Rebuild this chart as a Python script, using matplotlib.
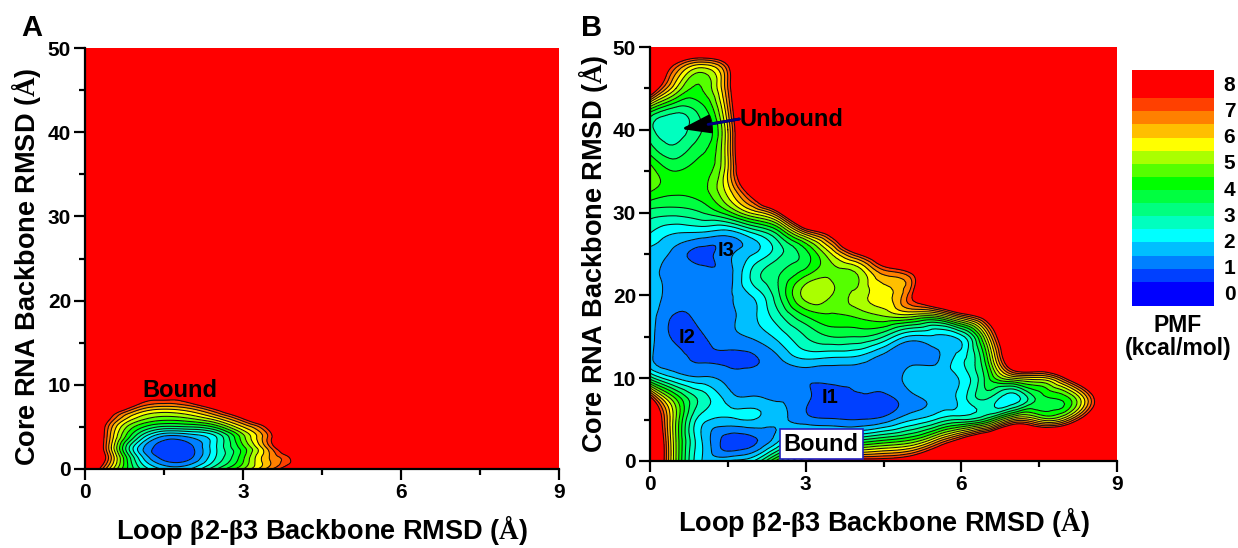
import numpy as np
import matplotlib
matplotlib.use("Agg")
import matplotlib.pyplot as plt
import matplotlib.tri as mtri
from matplotlib.cm import ScalarMappable
from matplotlib.colors import BoundaryNorm, ListedColormap

plt.rcParams["font.family"] = ["Liberation Sans", "DejaVu Sans"]
plt.rcParams["font.weight"] = "bold"
plt.rcParams["axes.labelweight"] = "bold"
plt.rcParams["mathtext.fontset"] = "custom"
plt.rcParams["mathtext.bf"] = "Liberation Serif:bold"
plt.rcParams["mathtext.rm"] = "Liberation Sans:bold"

W, H = 1238, 548

# PMF values, rows from the top of the plot downwards
x_grid = [0, 0.5, 1, 1.5, 2, 2.5, 3, 3.5, 4, 4.5, 5, 5.5, 6, 6.5, 7, 7.5, 8, 8.5, 9]

y_grid_a = [12.5, 10, 8.75, 7.5, 6.25, 5, 3.75, 2.5, 1.25, 0]
pmf_a = [
    [11] * 19,
    [11] * 19,
    [11, 11, 9, 8.6, 9, 11, 11, 11, 11, 11, 11, 11, 11, 11, 11, 11, 11, 11, 11],
    [11, 9.5, 7.3, 6.6, 7, 8.5, 10, 11, 11, 11, 11, 11, 11, 11, 11, 11, 11, 11, 11],
    [11, 7.6, 5.6, 5, 5.3, 6.3, 8, 10, 11, 11, 11, 11, 11, 11, 11, 11, 11, 11, 11],
    [11, 6.6, 4.3, 3.4, 3.5, 4.2, 6, 8, 11, 11, 11, 11, 11, 11, 11, 11, 11, 11, 11],
    [11, 6.3, 3.1, 1.3, 1.5, 2.5, 4.8, 7.2, 10, 11, 11, 11, 11, 11, 11, 11, 11, 11, 11],
    [11, 6, 2, 0.7, 0.85, 2.5, 4.3, 6.8, 9.5, 11, 11, 11, 11, 11, 11, 11, 11, 11, 11],
    [11, 6.5, 2.6, 0.85, 0.95, 2.6, 4.4, 6.5, 8, 11, 11, 11, 11, 11, 11, 11, 11, 11, 11],
    [10, 5.7, 3.2, 1.9, 2, 3.5, 5, 6.8, 9, 11, 11, 11, 11, 11, 11, 11, 11, 11, 11],
]

y_grid_b = [50, 47.5, 45, 42.5, 40, 37.5, 35, 32.5, 30, 27.5, 25, 22.5, 20, 17.5, 15, 12.5, 10, 7.5, 5, 2.5, 0]
pmf_b = [
    [11] * 19,
    [10, 7, 5.5, 7.3, 11, 11, 11, 11, 11, 11, 11, 11, 11, 11, 11, 11, 11, 11, 11],
    [9, 5.5, 4.5, 7, 11, 11, 11, 11, 11, 11, 11, 11, 11, 11, 11, 11, 11, 11, 11],
    [4.5, 3.3, 3.8, 6.5, 11, 11, 11, 11, 11, 11, 11, 11, 11, 11, 11, 11, 11, 11, 11],
    [3.2, 2.7, 3.5, 6, 11, 11, 11, 11, 11, 11, 11, 11, 11, 11, 11, 11, 11, 11, 11],
    [3.8, 3.2, 3.9, 6, 11, 11, 11, 11, 11, 11, 11, 11, 11, 11, 11, 11, 11, 11, 11],
    [4.8, 4, 4.3, 6, 10.5, 11, 11, 11, 11, 11, 11, 11, 11, 11, 11, 11, 11, 11, 11],
    [4.5, 4.1, 4.3, 5.7, 8.5, 11, 11, 11, 11, 11, 11, 11, 11, 11, 11, 11, 11, 11, 11],
    [3.3, 3.2, 3.5, 4.3, 5.7, 7.6, 11, 11, 11, 11, 11, 11, 11, 11, 11, 11, 11, 11, 11],
    [2.5, 2, 1.9, 1.7, 2.5, 3.8, 6.3, 8.2, 11, 11, 11, 11, 11, 11, 11, 11, 11, 11, 11],
    [1.8, 1.3, 0.85, 1.35, 2, 2.9, 3.8, 5.5, 7.5, 9.5, 11, 11, 11, 11, 11, 11, 11, 11, 11],
    [1.8, 1.2, 1.2, 1.3, 2.7, 3.5, 4.4, 4.9, 5, 6.5, 7.2, 10, 11, 11, 11, 11, 11, 11, 11],
    [1.8, 1.2, 1.1, 1.4, 2.1, 3.5, 5.2, 5, 5.2, 5.8, 7.2, 10, 11, 11, 11, 11, 11, 11, 11],
    [1.8, 0.95, 1.15, 1.4, 1.9, 2.9, 4, 4.4, 4.6, 5, 5.2, 5, 6.7, 8.5, 11, 11, 11, 11, 11],
    [1.7, 0.9, 0.95, 1.3, 1.6, 2.2, 3, 3.5, 3.5, 3, 1.9, 1.9, 2.3, 5.7, 10, 11, 11, 11, 11],
    [1.6, 1.1, 0.95, 0.9, 0.95, 1.5, 2.1, 2, 1.9, 1.3, 1.2, 1.4, 2.3, 4.5, 9.5, 11, 11, 11, 11],
    [3.3, 2, 1.6, 1.3, 1.25, 1.2, 1.1, 1.1, 1.1, 1.1, 1.7, 1.8, 2.1, 3.8, 5.5, 5.8, 7.5, 10, 11],
    [8, 4.5, 2.8, 1.8, 1.6, 1.45, 1.1, 0.8, 0.9, 0.85, 1.3, 1.7, 2.2, 3, 2.2, 3.7, 4.2, 7, 11],
    [10, 5, 2.2, 1.9, 2, 1.6, 1.2, 1.05, 1, 1.2, 1.9, 2.5, 3, 3.8, 6, 5.5, 6, 9, 11],
    [11, 5, 2, 0.75, 0.9, 2, 3.5, 3.5, 3.5, 4, 4.5, 6, 8, 10, 11, 11, 11, 11, 11],
    [11, 5, 2, 2, 2.5, 5, 7, 8, 8, 8, 8.5, 10, 11, 11, 11, 11, 11, 11, 11],
]

pmf_levels = [-1, 0.5, 1, 1.5, 2, 2.5, 3, 3.5, 4, 4.5, 5, 5.5, 6, 6.5, 7, 7.5, 30]
line_levels = pmf_levels[1:-1]
bar_bounds = [-0.5] + line_levels + [8.5]
bar_ticks = [0, 1, 2, 3, 4, 5, 6, 7, 8]
band_colors = ["#0000ff", "#0040ff", "#0080ff", "#00bfff", "#00ffff", "#00ffbf", "#00ff80", "#00ff40",
               "#00ff00", "#55ff00", "#aaff00", "#ffff00", "#ffbf00", "#ff8000", "#ff4000", "#ff0000"]

xlabel = "Loop $\\mathbf{β}$2-$\\mathbf{β}$3 Backbone RMSD ($\\mathbf{Å}$)"
ylabel = "Core RNA Backbone RMSD ($\\mathbf{Å}$)"


def px_axes(fig, left, top, right, bottom):
    return fig.add_axes([left / W, 1 - bottom / H, (right - left) / W, (bottom - top) / H])


def draw_panel(ax, y_grid, pmf):
    # y is rescaled so the triangles stay close to square, and the refiner rounds off the contours
    xx, yy = np.meshgrid(x_grid, y_grid)
    tri = mtri.Triangulation(xx.ravel(), yy.ravel() / 5)
    fine_tri, fine_z = mtri.UniformTriRefiner(tri).refine_field(np.array(pmf, dtype=float).ravel(), subdiv=3)
    fine_tri = mtri.Triangulation(fine_tri.x, fine_tri.y * 5, fine_tri.triangles)
    ax.set_facecolor("#ff0000")
    ax.tricontourf(fine_tri, fine_z, levels=pmf_levels, colors=band_colors)
    ax.tricontour(fine_tri, fine_z, levels=line_levels, colors="#101010", linewidths=0.75)
    ax.set_xlim(0, 9)
    ax.set_ylim(0, 50)
    ax.set_xticks([0, 3, 6, 9])
    ax.set_xticks([1.5, 4.5, 7.5], minor=True)
    ax.set_yticks([0, 10, 20, 30, 40, 50])
    ax.set_yticks([5, 15, 25, 35, 45], minor=True)
    ax.tick_params(which="major", length=8, width=1.6, labelsize=15, pad=2)
    ax.tick_params(which="minor", length=4, width=1.6)
    ax.spines["top"].set_visible(False)
    ax.spines["right"].set_visible(False)
    ax.spines["left"].set_linewidth(1.6)
    ax.spines["bottom"].set_linewidth(1.6)
    ax.set_xlabel(xlabel, fontsize=19.5, labelpad=8)
    ax.set_ylabel(ylabel, fontsize=19.5, labelpad=6)


fig = plt.figure(figsize=(W / 100, H / 100), dpi=100)

ax_a = px_axes(fig, 85, 48, 559, 469)
draw_panel(ax_a, y_grid_a, pmf_a)
ax_a.yaxis.set_label_coords(-0.088, 0.48)
ax_a.text(1.8, 9.3, "Bound", fontsize=17, ha="center", va="center")

ax_b = px_axes(fig, 650, 47, 1117, 461)
draw_panel(ax_b, y_grid_b, pmf_b)
ax_b.yaxis.set_label_coords(-0.085, 0.5)
ax_b.annotate("", xy=(0.6, 40.1), xytext=(1.72, 41.3),
              arrowprops=dict(arrowstyle="-|>,head_length=1.0,head_width=0.32", color="black", lw=2,
                              shrinkA=0, shrinkB=0, mutation_scale=18))
ax_b.annotate("", xy=(1.12, 40.65), xytext=(1.72, 41.3),
              arrowprops=dict(arrowstyle="-", color="#000080", lw=2, shrinkA=0, shrinkB=0))
ax_b.text(1.72, 41.2, "Unbound", fontsize=17, ha="left", va="center")
ax_b.text(1.47, 25.4, "I3", fontsize=14.5, ha="center", va="center")
ax_b.text(0.72, 14.9, "I2", fontsize=14.5, ha="center", va="center")
ax_b.text(3.47, 7.7, "I1", fontsize=14.5, ha="center", va="center")
ax_b.text(3.3, 2.05, "Bound", fontsize=17, ha="center", va="center",
          bbox=dict(boxstyle="square,pad=0.16", facecolor="white", edgecolor="#2020c0", linewidth=1.2))

cax = px_axes(fig, 1132, 70, 1214, 306)
cbar = fig.colorbar(ScalarMappable(BoundaryNorm(bar_bounds, len(band_colors)), ListedColormap(band_colors)),
                    cax=cax, ticks=bar_ticks, spacing="proportional", drawedges=False)
cbar.outline.set_visible(False)
cbar.ax.minorticks_off()
cbar.ax.tick_params(length=0, labelsize=15, pad=7)
cbar.solids.set_edgecolor("face")

fig.text(1178 / W, 1 - 325 / H, "PMF", fontsize=16.5, ha="center", va="center")
fig.text(1178 / W, 1 - 349 / H, "(kcal/mol)", fontsize=16.5, ha="center", va="center")
fig.text(32 / W, 1 - 28 / H, "A", fontsize=21, ha="center", va="center")
fig.text(592 / W, 1 - 28 / H, "B", fontsize=21, ha="center", va="center")

fig.savefig("out.png", dpi=100)
